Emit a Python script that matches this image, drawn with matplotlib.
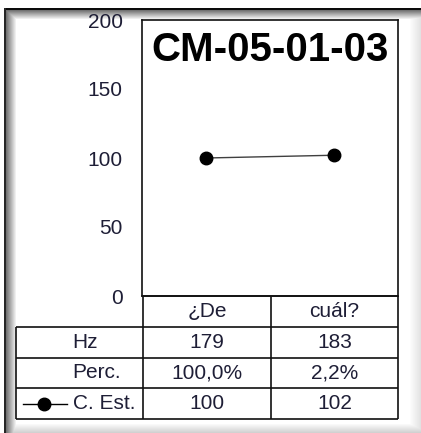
import numpy as np
import matplotlib.pyplot as plt

plt.rcParams['font.family'] = ['Liberation Sans', 'DejaVu Sans']

title = 'CM-05-01-03'
words = ['¿De', 'cuál?']
hz = [179, 183]
perc = ['100,0%', '2,2%']
c_est = [100, 102]
row_labels = ['Hz', 'Perc.', 'C. Est.']
y_ticks = [0, 50, 100, 150, 200]

W, H = 421, 433
TXT = '#1e1e36'
fig = plt.figure(figsize=(W / 100, H / 100), dpi=100)

# window-like frame with bevel shadow
bg = fig.add_axes([0, 0, 1, 1], zorder=-10)
r = np.arange(H)[:, None].astype(float)
c = np.arange(W)[None, :].astype(float)
shade = np.minimum.reduce([
    np.broadcast_to(0.45 + 0.55 * np.clip((r - 10) / 9.0, 0, 1), (H, W)),
    np.broadcast_to(0.45 + 0.55 * np.clip((c - 6) / 10.0, 0, 1), (H, W)),
    np.broadcast_to(1 - 0.2 * np.clip((r - 423) / 10.0, 0, 1), (H, W)),
    np.broadcast_to(1 - 0.12 * np.clip((c - 409) / 12.0, 0, 1), (H, W)),
])
img = np.ones((H, W))
img[10:, 6:] = shade[10:, 6:]
img[8:10, 4:] = 0.05
img[8:, 4:6] = 0.15
bg.imshow(np.dstack([img] * 3), interpolation='nearest', aspect='auto',
          extent=(0, W, H, 0))
bg.set_xlim(0, W)
bg.set_ylim(H, 0)
bg.axis('off')

# chart
ax = fig.add_axes([142 / W, 1 - 296 / H, (398 - 142) / W, (296 - 20) / H])
x = np.arange(len(words))
ax.plot(x, c_est, color='#404040', lw=1, marker='o', ms=9,
        mfc='black', mec='black')
ax.set_xlim(-0.5, len(words) - 0.5)
ax.set_ylim(0, 200)
ax.set_yticks(y_ticks)
ax.set_xticks([])
ax.tick_params(axis='y', length=0, pad=14, labelsize=15, labelcolor=TXT)
for s in ax.spines.values():
    s.set_linewidth(1.2)
    s.set_color('#111111')
ax.text(0.5, 0.89, title, transform=ax.transAxes, ha='center', va='center',
        fontsize=29, fontweight='bold', color='black')

# data table under the chart
tb = fig.add_axes([16 / W, 1 - 419 / H, (398 - 16) / W, (419 - 296) / H])
tb.set_xlim(0, 3)
tb.set_ylim(4, 0)
tb.axis('off')
lk = dict(color='#111111', lw=1.2, clip_on=False)
tb.hlines(0, 1, 3, **lk)
tb.hlines([1, 2, 3, 4], 0, 3, **lk)
tb.vlines(0, 1, 4, **lk)
tb.vlines([1, 2, 3], 0, 4, **lk)

fs = 15
for i, w in enumerate(words):
    tb.text(1.5 + i, 0.5, w, ha='center', va='center', fontsize=fs, color=TXT)
    tb.text(1.5 + i, 1.5, str(hz[i]), ha='center', va='center', fontsize=fs, color=TXT)
    tb.text(1.5 + i, 2.5, perc[i], ha='center', va='center', fontsize=fs, color=TXT)
    tb.text(1.5 + i, 3.5, str(c_est[i]), ha='center', va='center', fontsize=fs, color=TXT)
for j, lab in enumerate(row_labels):
    tb.text(0.444, 1.5 + j, lab, ha='left', va='center', fontsize=fs, color=TXT)
tb.plot([0.056, 0.397], [3.5, 3.5], color='black', lw=1, clip_on=False)
tb.plot([0.222], [3.5], marker='o', ms=9, color='black', clip_on=False)

fig.savefig('out.png', dpi=100)
